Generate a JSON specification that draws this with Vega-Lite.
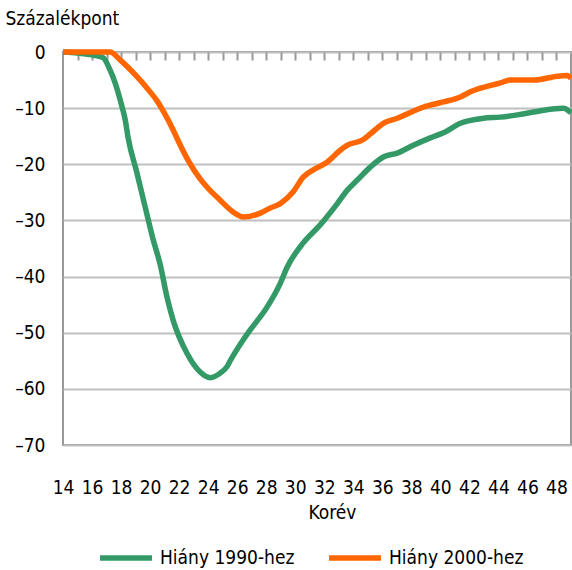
{
  "$schema": "https://vega.github.io/schema/vega-lite/v6.json",
  "autosize": "none",
  "width": 508,
  "height": 393,
  "padding": {"left": 63, "top": 52, "right": 1, "bottom": 125},
  "background": "white",
  "config": {
    "font": "Liberation Sans Narrow, Arial Narrow, DejaVu Sans Condensed, sans-serif",
    "view": {"stroke": "#999999", "strokeWidth": 2},
    "axis": {"labelFont": "Liberation Sans Narrow, Arial Narrow, DejaVu Sans Condensed, sans-serif", "titleFont": "Liberation Sans Narrow, Arial Narrow, DejaVu Sans Condensed, sans-serif", "labelColor": "#000000", "titleColor": "#000000", "titleFontWeight": "normal"},
    "legend": {"labelFont": "Liberation Sans Narrow, Arial Narrow, DejaVu Sans Condensed, sans-serif", "labelColor": "#000000"}
  },
  "data": {"values": [
    {"age": 14, "value": 0, "series": "Hiány  1990-hez"},
    {"age": 15, "value": -0.2, "series": "Hiány  1990-hez"},
    {"age": 16, "value": -0.5, "series": "Hiány  1990-hez"},
    {"age": 16.76, "value": -1.0, "series": "Hiány  1990-hez"},
    {"age": 17.24, "value": -3.2, "series": "Hiány  1990-hez"},
    {"age": 17.59, "value": -5.5, "series": "Hiány  1990-hez"},
    {"age": 18.07, "value": -9.8, "series": "Hiány  1990-hez"},
    {"age": 18.28, "value": -12, "series": "Hiány  1990-hez"},
    {"age": 18.48, "value": -15.2, "series": "Hiány  1990-hez"},
    {"age": 19.1, "value": -21.6, "series": "Hiány  1990-hez"},
    {"age": 19.66, "value": -27.6, "series": "Hiány  1990-hez"},
    {"age": 20.2, "value": -33.3, "series": "Hiány  1990-hez"},
    {"age": 20.69, "value": -37.8, "series": "Hiány  1990-hez"},
    {"age": 21.17, "value": -43.7, "series": "Hiány  1990-hez"},
    {"age": 21.59, "value": -47.8, "series": "Hiány  1990-hez"},
    {"age": 22.55, "value": -53.7, "series": "Hiány  1990-hez"},
    {"age": 23.45, "value": -57, "series": "Hiány  1990-hez"},
    {"age": 24.14, "value": -58, "series": "Hiány  1990-hez"},
    {"age": 24.83, "value": -57.2, "series": "Hiány  1990-hez"},
    {"age": 25.31, "value": -56, "series": "Hiány  1990-hez"},
    {"age": 25.52, "value": -55, "series": "Hiány  1990-hez"},
    {"age": 26.41, "value": -51.3, "series": "Hiány  1990-hez"},
    {"age": 26.9, "value": -49.5, "series": "Hiány  1990-hez"},
    {"age": 28.07, "value": -45.4, "series": "Hiány  1990-hez"},
    {"age": 28.97, "value": -41.2, "series": "Hiány  1990-hez"},
    {"age": 29.45, "value": -38.3, "series": "Hiány  1990-hez"},
    {"age": 30.55, "value": -34, "series": "Hiány  1990-hez"},
    {"age": 31.72, "value": -30.8, "series": "Hiány  1990-hez"},
    {"age": 32.9, "value": -27, "series": "Hiány  1990-hez"},
    {"age": 33.59, "value": -24.6, "series": "Hiány  1990-hez"},
    {"age": 34.28, "value": -22.8, "series": "Hiány  1990-hez"},
    {"age": 35.17, "value": -20.5, "series": "Hiány  1990-hez"},
    {"age": 36.07, "value": -18.7, "series": "Hiány  1990-hez"},
    {"age": 37.03, "value": -18, "series": "Hiány  1990-hez"},
    {"age": 38.14, "value": -16.6, "series": "Hiány  1990-hez"},
    {"age": 39.31, "value": -15.3, "series": "Hiány  1990-hez"},
    {"age": 40.21, "value": -14.4, "series": "Hiány  1990-hez"},
    {"age": 41.38, "value": -12.7, "series": "Hiány  1990-hez"},
    {"age": 42.97, "value": -11.8, "series": "Hiány  1990-hez"},
    {"age": 44.14, "value": -11.6, "series": "Hiány  1990-hez"},
    {"age": 45.31, "value": -11.2, "series": "Hiány  1990-hez"},
    {"age": 46.41, "value": -10.7, "series": "Hiány  1990-hez"},
    {"age": 47.59, "value": -10.2, "series": "Hiány  1990-hez"},
    {"age": 48.48, "value": -10, "series": "Hiány  1990-hez"},
    {"age": 49, "value": -10.8, "series": "Hiány  1990-hez"},
    {"age": 14, "value": 0, "series": "Hiány  2000-hez"},
    {"age": 16, "value": 0, "series": "Hiány  2000-hez"},
    {"age": 17.24, "value": 0, "series": "Hiány  2000-hez"},
    {"age": 17.93, "value": -1.4, "series": "Hiány  2000-hez"},
    {"age": 19.1, "value": -4.4, "series": "Hiány  2000-hez"},
    {"age": 20.0, "value": -7.1, "series": "Hiány  2000-hez"},
    {"age": 20.48, "value": -8.7, "series": "Hiány  2000-hez"},
    {"age": 20.9, "value": -10.5, "series": "Hiány  2000-hez"},
    {"age": 21.59, "value": -13.9, "series": "Hiány  2000-hez"},
    {"age": 21.86, "value": -15.4, "series": "Hiány  2000-hez"},
    {"age": 22.62, "value": -19.3, "series": "Hiány  2000-hez"},
    {"age": 23.45, "value": -22.6, "series": "Hiány  2000-hez"},
    {"age": 23.93, "value": -24.1, "series": "Hiány  2000-hez"},
    {"age": 24.83, "value": -26.4, "series": "Hiány  2000-hez"},
    {"age": 25.72, "value": -28.5, "series": "Hiány  2000-hez"},
    {"age": 26.41, "value": -29.4, "series": "Hiány  2000-hez"},
    {"age": 27.59, "value": -28.7, "series": "Hiány  2000-hez"},
    {"age": 28.28, "value": -27.8, "series": "Hiány  2000-hez"},
    {"age": 28.97, "value": -27, "series": "Hiány  2000-hez"},
    {"age": 29.86, "value": -24.9, "series": "Hiány  2000-hez"},
    {"age": 30.55, "value": -22.3, "series": "Hiány  2000-hez"},
    {"age": 31.24, "value": -21, "series": "Hiány  2000-hez"},
    {"age": 32.21, "value": -19.6, "series": "Hiány  2000-hez"},
    {"age": 33.1, "value": -17.5, "series": "Hiány  2000-hez"},
    {"age": 33.6, "value": -16.6, "series": "Hiány  2000-hez"},
    {"age": 34.69, "value": -15.6, "series": "Hiány  2000-hez"},
    {"age": 35.17, "value": -14.6, "series": "Hiány  2000-hez"},
    {"age": 36.07, "value": -12.7, "series": "Hiány  2000-hez"},
    {"age": 37.03, "value": -11.8, "series": "Hiány  2000-hez"},
    {"age": 38.83, "value": -9.8, "series": "Hiány  2000-hez"},
    {"age": 40.21, "value": -8.9, "series": "Hiány  2000-hez"},
    {"age": 41.38, "value": -8.0, "series": "Hiány  2000-hez"},
    {"age": 42.07, "value": -7.1, "series": "Hiány  2000-hez"},
    {"age": 44.14, "value": -5.5, "series": "Hiány  2000-hez"},
    {"age": 44.8, "value": -5.0, "series": "Hiány  2000-hez"},
    {"age": 46.5, "value": -5.0, "series": "Hiány  2000-hez"},
    {"age": 48.07, "value": -4.3, "series": "Hiány  2000-hez"},
    {"age": 48.76, "value": -4.2, "series": "Hiány  2000-hez"},
    {"age": 49, "value": -4.7, "series": "Hiány  2000-hez"}
  ]},
  "resolve": {"axis": {"x": "independent"}},
  "layer": [
    {
      "mark": {"type": "line", "strokeWidth": 5.5, "interpolate": "monotone"},
      "encoding": {
        "x": {"field": "age", "type": "quantitative", "scale": {"domain": [14, 49], "nice": false, "zero": false},
          "axis": {"orient": "bottom", "values": [14,16,18,20,22,24,26,28,30,32,34,36,38,40,42,44,46,48], "grid": false, "domain": false, "ticks": false, "tickSize": 0, "labelPadding": 33, "labelFontSize": 19, "labelFlush": false, "title": "Korév", "titleFontSize": 19, "titleX": 269, "titleY": 58}},
        "y": {"field": "value", "type": "quantitative", "scale": {"domain": [-70, 0], "nice": false},
          "axis": {"values": [0,-10,-20,-30,-40,-50,-60,-70], "grid": true, "gridColor": "#c0c0c0", "gridWidth": 2, "domain": false, "ticks": false, "labelPadding": 18, "labelFontSize": 19,
            "labelExpr": "datum.value < 0 ? '–' + abs(datum.value) : '0'",
            "title": "Százalékpont", "titleFontSize": 19, "titleAngle": 0, "titleAlign": "left", "titleBaseline": "middle", "titleX": -58, "titleY": -34}},
        "color": {"field": "series", "type": "nominal", "scale": {"domain": ["Hiány  1990-hez", "Hiány  2000-hez"], "range": ["#339966", "#FF6600"]},
          "legend": {"title": null, "orient": "none", "legendX": 34, "legendY": 477, "direction": "horizontal", "symbolType": "stroke", "symbolStrokeWidth": 5.5, "symbolSize": 2700, "labelFontSize": 19, "columnPadding": 18, "labelOffset": 5}}
      }
    },
    {
      "mark": {"type": "line", "opacity": 0},
      "encoding": {
        "x": {"field": "age", "type": "quantitative", "scale": {"domain": [14, 49], "nice": false, "zero": false},
          "axis": {"orient": "top", "values": [15,16,17,18,19,20,21,22,23,24,25,26,27,28,29,30,31,32,33,34,35,36,37,38,39,40,41,42,43,44,45,46,47,48], "grid": false, "domain": false, "ticks": true, "tickSize": -8, "tickColor": "#999999", "tickWidth": 2, "labels": false, "title": null}},
        "y": {"field": "value", "type": "quantitative"}
      }
    }
  ]
}
